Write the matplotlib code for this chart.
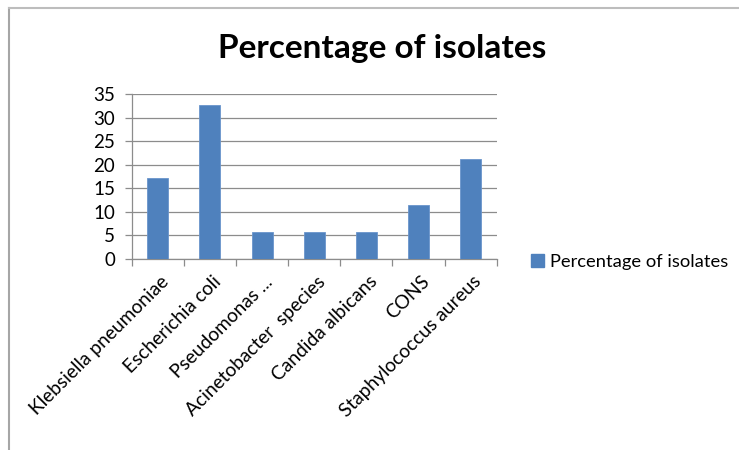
import matplotlib
matplotlib.use("Agg")
import matplotlib.pyplot as plt
from matplotlib.patches import Rectangle
from matplotlib.lines import Line2D

organisms = [
    "Klebsiella pneumoniae",
    "Escherichia coli",
    "Pseudomonas ...",
    "Acinetobacter  species",
    "Candida albicans",
    "CONS",
    "Staphylococcus aureus",
]
percentages = [17.3, 32.7, 5.8, 5.8, 5.8, 11.5, 21.2]
y_ticks = [0, 5, 10, 15, 20, 25, 30, 35]
series_name = "Percentage of isolates"

bar_color = "#4F81BD"
grid_color = "#8C8C8C"
font = ["Lato", "DejaVu Sans"]
label_size = 13.8

fig = plt.figure(figsize=(7.39, 4.5), dpi=100)
ax = fig.add_axes([0.1782, 0.4244, 0.4940, 0.3660])

x = list(range(len(organisms)))
ax.bar(x, percentages, width=0.4, color=bar_color, edgecolor="#6A95CC",
       linewidth=0.6, zorder=3, label=series_name)

ax.set_xlim(-0.5, len(organisms) - 0.5)
ax.set_ylim(0, 35)
ax.set_yticks(y_ticks)
ax.set_yticklabels([str(t) for t in y_ticks], fontsize=13.5, family=font,
                   color="#000000")
ax.yaxis.grid(True, color=grid_color, linewidth=0.9, zorder=0)

# category boundaries carry the x-axis tick marks
ax.set_xticks([i - 0.5 for i in range(len(organisms) + 1)])
ax.set_xticklabels([])
ax.tick_params(axis="x", length=5, color=grid_color, width=0.9)
ax.tick_params(axis="y", length=5, color=grid_color, width=0.9, pad=7)

for i, name in enumerate(organisms):
    ax.annotate(name, xy=(i + 0.04, 0), xycoords=("data", "axes fraction"),
                xytext=(0, -10), textcoords="offset points",
                rotation=45, rotation_mode="anchor", ha="right", va="top",
                fontsize=label_size, family=font, color="#000000")

for side in ("top", "right"):
    ax.spines[side].set_visible(False)
for side in ("left", "bottom"):
    ax.spines[side].set_color(grid_color)
    ax.spines[side].set_linewidth(0.9)

fig.text(0.5176, 0.893, series_name, ha="center", va="center",
         fontsize=24, fontweight="bold", family=font, color="#000000")

fig.legend(handles=[Rectangle((0, 0), 1, 1, color=bar_color)],
           labels=[series_name], loc="center left",
           bbox_to_anchor=(0.718, 0.418), frameon=False,
           prop={"family": font, "size": 13.2},
           handlelength=0.75, handleheight=0.75, handletextpad=0.3,
           borderpad=0, borderaxespad=0)

# outer chart border (left and top edges visible)
fig.add_artist(Line2D([0.0125, 0.0125], [0, 0.982], transform=fig.transFigure,
                      color="#A6A6A6", linewidth=1.5))
fig.add_artist(Line2D([0.0125, 1.0], [0.982, 0.982], transform=fig.transFigure,
                      color="#BDBDBD", linewidth=1.5))

fig.savefig("out.png", dpi=100)
